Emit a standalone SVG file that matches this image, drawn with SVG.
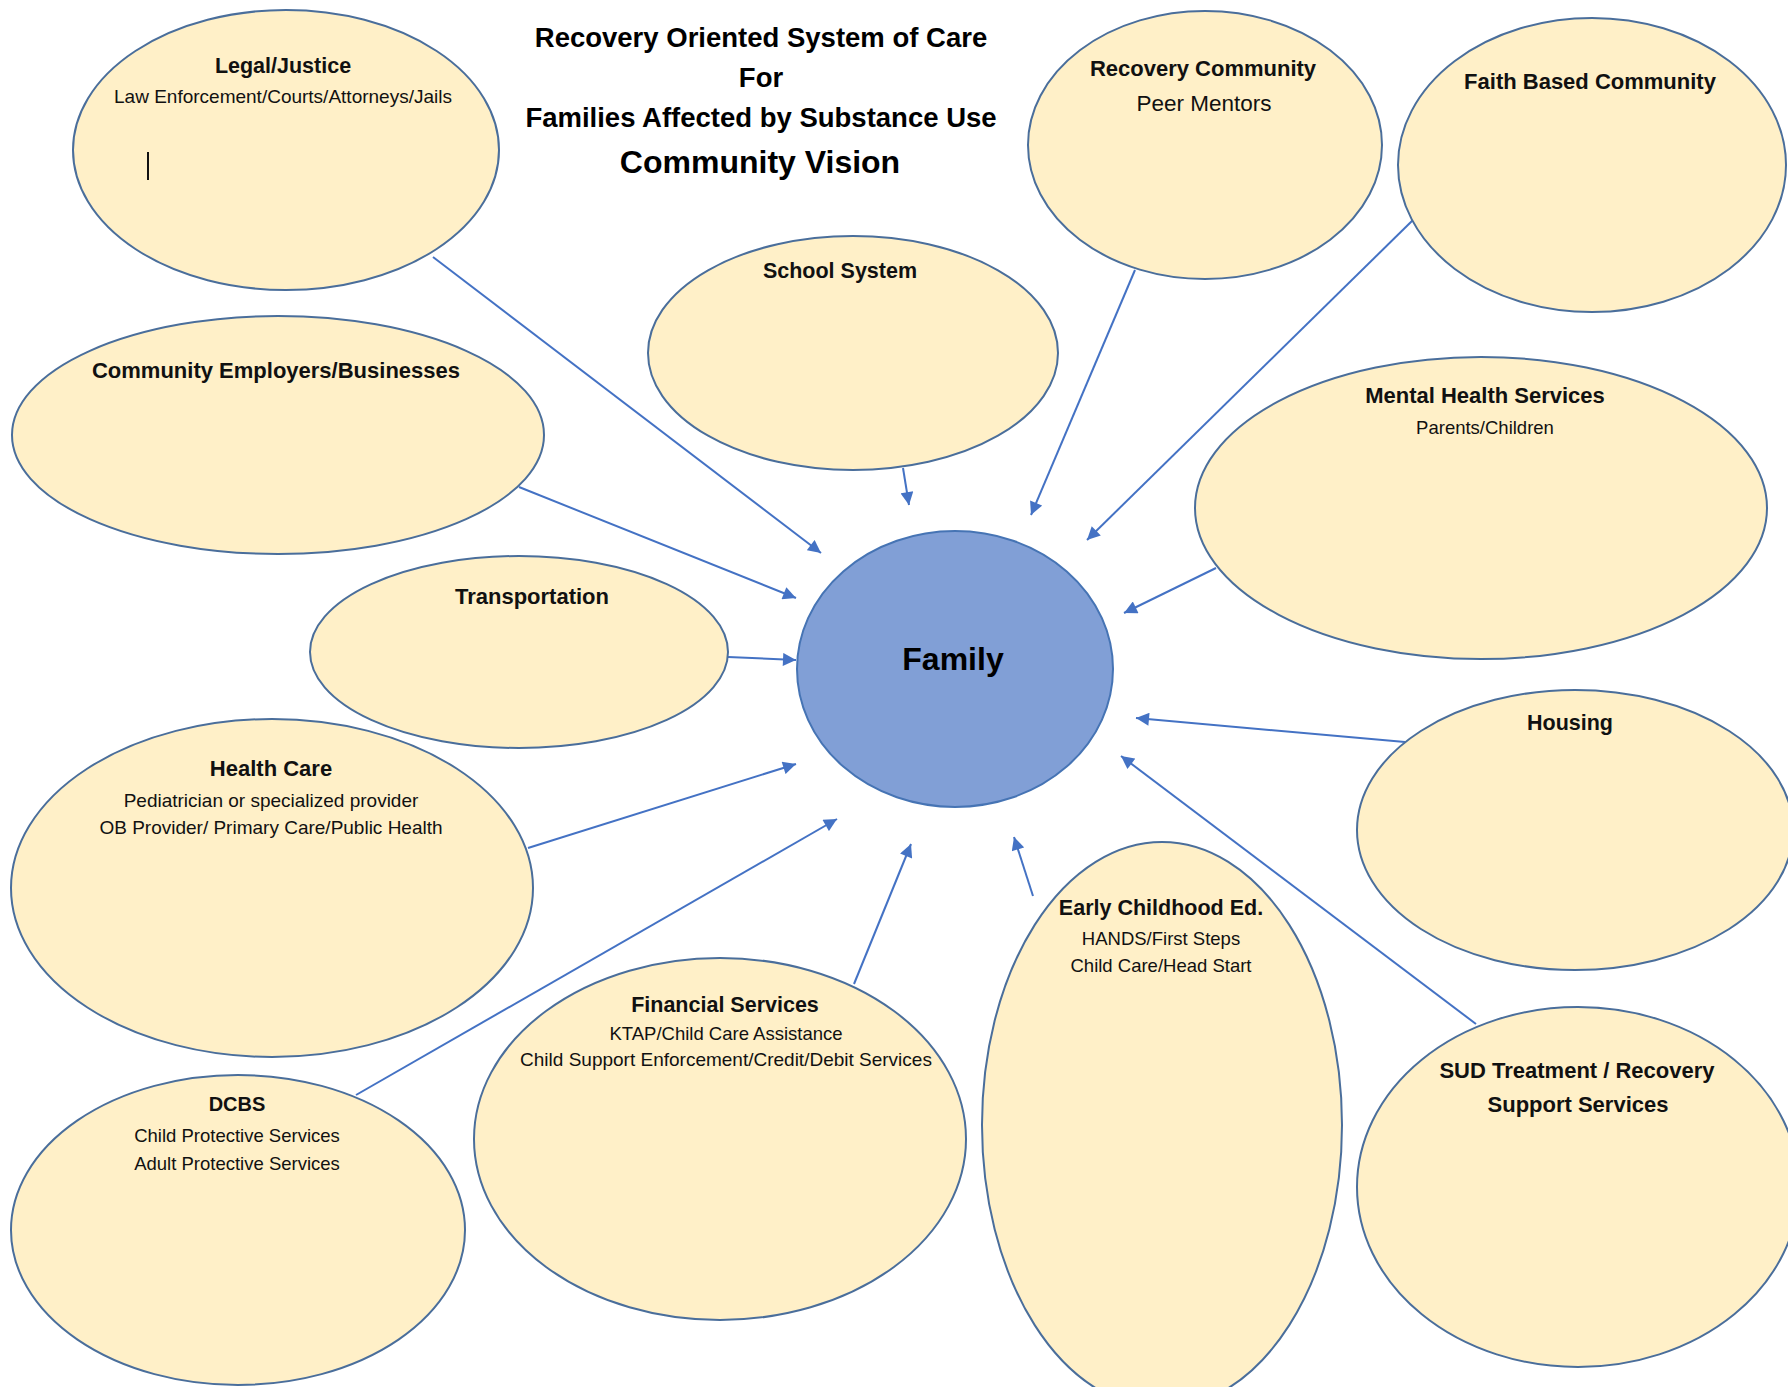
<svg xmlns="http://www.w3.org/2000/svg" width="1788" height="1387" viewBox="0 0 1788 1387">
  <style>
    .node { fill: #FFF0C8; stroke: #4A6E9B; stroke-width: 2; }
    .core { fill: #819FD6; stroke: #4674B4; stroke-width: 2; }
    .h { font-family: "Liberation Sans", Arial, sans-serif; font-weight: bold; font-size: 21.5px; fill: #111; text-anchor: middle; }
    .s { font-family: "Liberation Sans", Arial, sans-serif; font-size: 18.5px; fill: #111; text-anchor: middle; }
    .t { font-family: "Liberation Sans", Arial, sans-serif; font-weight: bold; font-size: 27.5px; fill: #000; text-anchor: middle; }
    .link { stroke: #4472C4; stroke-width: 2; fill: none; marker-end: url(#arrow); }
  </style>
  <defs>
    <marker id="arrow" viewBox="0 0 10 10" refX="10" refY="5" markerWidth="7" markerHeight="6.5" orient="auto">
      <path d="M0,0 L10,5 L0,10 z" fill="#4472C4"/>
    </marker>
  </defs>
  <rect width="1788" height="1387" fill="#ffffff"/>

  <!-- heading -->
  <g id="title">
    <text class="t" x="761" y="47">Recovery Oriented System of Care</text>
    <text class="t" x="761" y="87">For</text>
    <text class="t" x="761" y="127">Families Affected by Substance Use</text>
    <text class="t" x="760" y="173" style="font-size:32px">Community Vision</text>
  </g>

  <!-- arrows into the family -->
  <g id="connectors">
    <line class="link" x1="433" y1="257" x2="821" y2="553"/>
    <line class="link" x1="519" y1="487" x2="796" y2="598"/>
    <line class="link" x1="903" y1="468" x2="909" y2="505"/>
    <line class="link" x1="1135" y1="270" x2="1031" y2="515"/>
    <line class="link" x1="1414" y1="219" x2="1087" y2="540"/>
    <line class="link" x1="1216" y1="568" x2="1124" y2="613"/>
    <line class="link" x1="728" y1="657" x2="796" y2="660"/>
    <line class="link" x1="1405" y1="742" x2="1136" y2="718"/>
    <line class="link" x1="528" y1="848" x2="796" y2="764"/>
    <line class="link" x1="356" y1="1095" x2="837" y2="819"/>
    <line class="link" x1="854" y1="984" x2="911" y2="844"/>
    <line class="link" x1="1033" y1="896" x2="1014" y2="837"/>
    <line class="link" x1="1476" y1="1024" x2="1121" y2="756"/>
  </g>

  <g id="legal-justice">
    <ellipse class="node" cx="286" cy="150" rx="213" ry="140"/>
    <text class="h" x="283" y="73">Legal/Justice</text>
    <text class="s" x="283" y="103" style="font-size:19px">Law Enforcement/Courts/Attorneys/Jails</text>
    <line x1="148" y1="152" x2="148" y2="180" stroke="#111" stroke-width="2"/>
  </g>

  <g id="recovery-community">
    <ellipse class="node" cx="1205" cy="145" rx="177" ry="134"/>
    <text class="h" x="1203" y="76" style="font-size:22px">Recovery Community</text>
    <text class="s" x="1204" y="111" style="font-size:22.5px">Peer Mentors</text>
  </g>

  <g id="faith-based">
    <ellipse class="node" cx="1592" cy="165" rx="194" ry="147"/>
    <text class="h" x="1590" y="89" style="font-size:22px">Faith Based Community</text>
  </g>

  <g id="school-system">
    <ellipse class="node" cx="853" cy="353" rx="205" ry="117"/>
    <text class="h" x="840" y="278">School System</text>
  </g>

  <g id="employers">
    <ellipse class="node" cx="278" cy="435" rx="266" ry="119"/>
    <text class="h" x="276" y="378" style="font-size:22px">Community Employers/Businesses</text>
  </g>

  <g id="mental-health">
    <ellipse class="node" cx="1481" cy="508" rx="286" ry="151"/>
    <text class="h" x="1485" y="403" style="font-size:22px">Mental Health Services</text>
    <text class="s" x="1485" y="434">Parents/Children</text>
  </g>

  <g id="transportation">
    <ellipse class="node" cx="519" cy="652" rx="209" ry="96"/>
    <text class="h" x="532" y="604" style="font-size:22px">Transportation</text>
  </g>

  <g id="family">
    <ellipse class="core" cx="955" cy="669" rx="158" ry="138"/>
    <text class="h" x="953" y="670" style="font-size:32px;fill:#000">Family</text>
  </g>

  <g id="housing">
    <ellipse class="node" cx="1575" cy="830" rx="218" ry="140"/>
    <text class="h" x="1570" y="730">Housing</text>
  </g>

  <g id="health-care">
    <ellipse class="node" cx="272" cy="888" rx="261" ry="169"/>
    <text class="h" x="271" y="776" style="font-size:22px">Health Care</text>
    <text class="s" x="271" y="807" style="font-size:19px">Pediatrician or specialized provider</text>
    <text class="s" x="271" y="834" style="font-size:19px">OB Provider/ Primary Care/Public Health</text>
  </g>

  <g id="early-childhood">
    <ellipse class="node" cx="1162" cy="1125" rx="180" ry="283"/>
    <text class="h" x="1161" y="915">Early Childhood Ed.</text>
    <text class="s" x="1161" y="945">HANDS/First Steps</text>
    <text class="s" x="1161" y="972">Child Care/Head Start</text>
  </g>

  <g id="financial">
    <ellipse class="node" cx="720" cy="1139" rx="246" ry="181"/>
    <text class="h" x="725" y="1012">Financial Services</text>
    <text class="s" x="726" y="1040">KTAP/Child Care Assistance</text>
    <text class="s" x="726" y="1066" style="font-size:19px">Child Support Enforcement/Credit/Debit Services</text>
  </g>

  <g id="dcbs">
    <ellipse class="node" cx="238" cy="1230" rx="227" ry="155"/>
    <text class="h" x="237" y="1111" style="font-size:20px">DCBS</text>
    <text class="s" x="237" y="1142">Child Protective Services</text>
    <text class="s" x="237" y="1170">Adult Protective Services</text>
  </g>

  <g id="sud-treatment">
    <ellipse class="node" cx="1578" cy="1187" rx="221" ry="180"/>
    <text class="h" x="1577" y="1078" style="font-size:22px">SUD Treatment / Recovery</text>
    <text class="h" x="1578" y="1112" style="font-size:22px">Support Services</text>
  </g>
</svg>
